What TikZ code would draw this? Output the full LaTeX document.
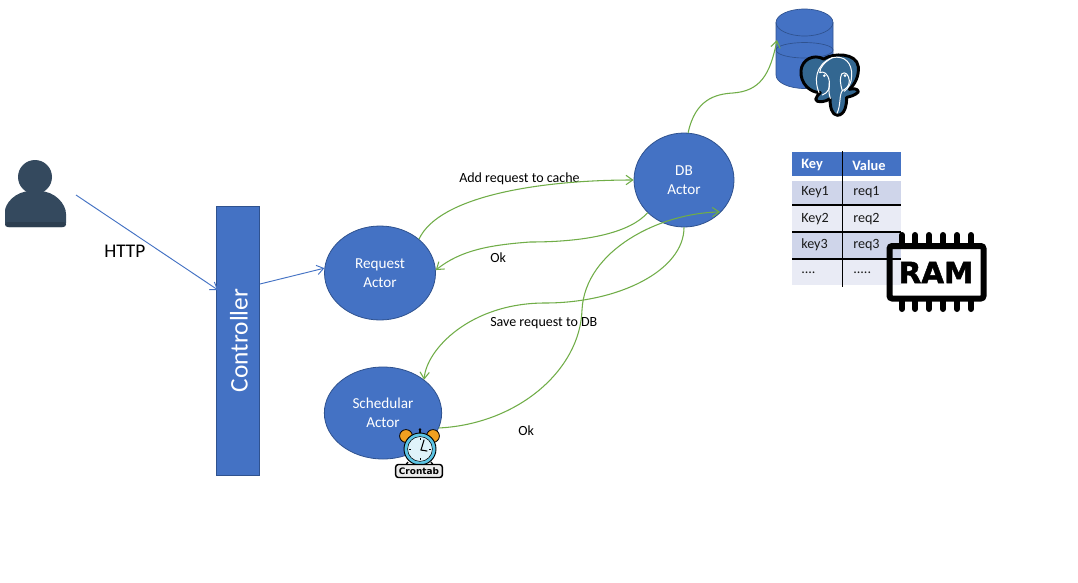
\documentclass[tikz,border=0pt]{standalone}
\usepackage{fontspec}
\setmainfont{Carlito}
\newfontfamily\ramfont[BoldFeatures={FakeBold=1.6}]{DejaVu Sans}
\newfontfamily\cronfont{DejaVu Sans}
\usetikzlibrary{arrows.meta,shapes.geometric}
\definecolor{nodeblue}{HTML}{4472C4}
\definecolor{edgeblue}{HTML}{2F528F}
\definecolor{conngreen}{HTML}{70AD47}
\definecolor{rowodd}{HTML}{CFD5EA}
\definecolor{roweven}{HTML}{E9EBF5}
\definecolor{person}{HTML}{34495E}
\definecolor{persondark}{HTML}{2C3E50}
\definecolor{pgblue}{HTML}{336791}
\definecolor{txt}{HTML}{1A1A1A}
\definecolor{clockblue}{HTML}{5CC4E4}
\definecolor{clockface}{HTML}{DFF3FA}
\definecolor{bell}{HTML}{F0A020}
\tikzset{
  actor/.style={ellipse,draw=edgeblue,line width=.6pt,fill=nodeblue,text=white,inner sep=0pt,align=center,font=\fontsize{11.4}{14.25}\selectfont},
  lab/.style={anchor=west,inner sep=0pt,text=black,font=\fontsize{10.5}{12}\selectfont},
  cell/.style={anchor=west,inner sep=0pt,text=txt,font=\fontsize{10.6}{12}\selectfont},
  headcell/.style={anchor=west,inner sep=0pt,text=white,font=\fontsize{10.8}{12}\selectfont\bfseries},
  bluearrow/.style={draw=nodeblue,line width=.7pt,-{Straight Barb[length=5pt,width=7pt]}},
  greenarrow/.style={draw=conngreen,line width=.8pt,-{Straight Barb[length=5pt,width=7pt]}},
  tline/.style={draw=black,line width=.8pt},
  pin/.style={draw=black,line width=4.5pt,line cap=round},
  elephantline/.style={draw=white,line width=.75pt,line cap=round,line join=round}
}
\begin{document}
\begin{tikzpicture}[x=0.75pt,y=-0.75pt]
\useasboundingbox (0,0) rectangle (1078,582);
\fill[white] (0,0) rectangle (1078,582);

% person
\fill[person] (35,177) circle[radius=12.75pt];
\fill[person,rounded corners=3pt] (5,215) .. controls (5,204) and (15,191) .. (35,191) .. controls (55,191) and (66,204) .. (66,218) -- (66,227) -- (5,227) -- cycle;
\fill[persondark,rounded corners=2pt] (5,222) -- (66,222) -- (66,227) -- (5,227) -- cycle;

% controller
\node[draw=edgeblue,line width=.6pt,fill=nodeblue,minimum width=32.25pt,minimum height=201.75pt,inner sep=0pt] (ctrl) at (238,340.5) {};
\node[rotate=90,text=white,font=\fontsize{19}{21}\selectfont,inner sep=0pt] (ctrltext) at (239,340.5) {Controller};

% actors
\node[actor,minimum width=83.25pt,minimum height=70.5pt] (req) at (380,273) {Request\\Actor};
\node[actor,minimum width=75pt,minimum height=70.5pt] (db) at (684,180) {DB\\Actor};
\node[actor,minimum width=88pt,minimum height=69pt] (sched) at (383,413) {Schedular\\Actor};

% cylinder
\fill[nodeblue] (776,22.5) -- (776,75) arc[start angle=180,end angle=360,x radius=21.375pt,y radius=10.125pt] -- (833,22.5) arc[start angle=0,end angle=180,x radius=21.375pt,y radius=10.125pt] -- cycle;
\draw[edgeblue,line width=.5pt] (776,50) arc[start angle=180,end angle=0,x radius=21.375pt,y radius=5.6pt];
\draw[edgeblue,line width=.5pt] (776,50) arc[start angle=180,end angle=360,x radius=21.375pt,y radius=6pt];
\draw[edgeblue,line width=.5pt] (776,22.5) arc[start angle=180,end angle=360,x radius=21.375pt,y radius=10.125pt];
\draw[edgeblue,line width=.5pt] (776,22.5) -- (776,75) arc[start angle=180,end angle=360,x radius=21.375pt,y radius=10.125pt] -- (833,22.5) arc[start angle=0,end angle=180,x radius=21.375pt,y radius=10.125pt];

% table
\fill[nodeblue] (792,152) rectangle (901,176);
\fill[rowodd] (792,181) rectangle (901,205);
\fill[roweven] (792,205) rectangle (901,232);
\fill[rowodd] (792,232) rectangle (901,258);
\fill[roweven] (792,258) rectangle (901,285);
\draw[tline] (792,205) -- (901,205);
\draw[tline] (792,232) -- (901,232);
\draw[tline] (792,259) -- (901,259);
\draw[tline] (842.5,151) -- (842.5,287);
\node[headcell] (tk) at (801,165) {Key};
\node[headcell] (tv) at (852,165) {Value};
\node[cell] (k1) at (801,192) {Key1};
\node[cell] (v1) at (853,192) {req1};
\node[cell] (k2) at (801,219) {Key2};
\node[cell] (v2) at (853,219) {req2};
\node[cell] (k3) at (801,245) {key3};
\node[cell] (v3) at (853,245) {req3};
\node[cell] (k4) at (801,273) {....};
\node[cell] (v4) at (853,273) {.....};

% labels
\node[lab] (l1) at (459,179) {Add request to cache};
\node[lab] (l2) at (490,258) {Ok};
\node[lab] (l3) at (490,323) {Save request to DB};
\node[lab] (l4) at (518,431) {Ok};
\node[lab,font=\fontsize{14.5}{16}\selectfont] (lhttp) at (104,251) {HTTP};

% connector free ends
\coordinate (httpstart) at (76,195);
\coordinate (ctrlin) at (218,290);
\coordinate (ctrlout) at (260,284);
\coordinate (cylin) at (777,40);
\coordinate (dbin) at (720,212);
\coordinate (m1) at (530,242);
\coordinate (m2) at (545,303);
\coordinate (m3) at (582,310);
\coordinate (m4) at (733,93);

\draw[bluearrow] (httpstart) -- (ctrlin);
\draw[bluearrow] (ctrlout) -- (req.175);
\draw[greenarrow] (req.41) .. controls +(20,-43) and +(-94,0) .. (db.west);
\draw[greenarrow] (db.222) .. controls +(-17,19) and +(60,0) .. (m1) .. controls +(-40,3) and +(25,-20) .. (req.3);
\draw[greenarrow] (db.south) .. controls +(0,43) and +(74,0) .. (m2) .. controls +(-75,0) and +(2,-30) .. (sched.39);
\draw[greenarrow] (sched.-15) .. controls +(79,-4) and +(-2,60) .. (m3) .. controls +(3,-60) and +(-60,1) .. (dbin);
\draw[greenarrow] (db.85) .. controls +(7,-33) and +(-18,1) .. (m4) .. controls +(27,-2) and +(-7,35) .. (cylin);

% elephant (coordinates of a 3x crop)
\begin{scope}[shift={(795,50)},x=0.25pt,y=-0.25pt]
\path[draw=black,line width=2.2pt,fill=pgblue,line join=round]
 (18,62) .. controls (20,30) and (55,10) .. (86,27)
 .. controls (115,8) and (185,8) .. (190,50)
 .. controls (192,80) and (180,102) .. (163,118)
 .. controls (172,116) and (190,114) .. (190,126)
 .. controls (180,136) and (165,140) .. (155,142)
 .. controls (155,165) and (150,195) .. (127,196)
 .. controls (110,195) and (105,170) .. (105,146)
 .. controls (92,156) and (64,160) .. (62,148)
 .. controls (62,138) and (72,134) .. (76,128)
 .. controls (45,128) and (15,100) .. (18,62) -- cycle;
\draw[elephantline]
 (72,128) .. controls (58,95) and (58,45) .. (112,23);
\draw[elephantline]
 (112,23) .. controls (150,15) and (172,40) .. (170,78)
 .. controls (170,98) and (160,115) .. (148,124);
\draw[elephantline]
 (112,23) .. controls (90,35) and (75,50) .. (74,68)
 .. controls (85,62) and (100,70) .. (103,95)
 .. controls (105,115) and (100,128) .. (82,135);
\draw[elephantline]
 (103,95) .. controls (102,115) and (100,130) .. (106,145);
\draw[elephantline]
 (140,72) .. controls (150,62) and (162,75) .. (163,92)
 .. controls (164,110) and (150,118) .. (142,122)
 .. controls (132,135) and (138,165) .. (126,190);
\draw[elephantline]
 (140,72) .. controls (134,85) and (135,100) .. (142,122);
\fill[white] (88,77) circle[radius=1.1pt];
\fill[white] (150,77) circle[radius=1.1pt];
\end{scope}

% RAM chip
\draw[black,line width=4.5pt,rounded corners=2pt] (889.5,246) rectangle (983.5,298.5);
\foreach \px in {902,915,929,943,957,971} {
  \draw[pin] (\px,235) -- (\px,244);
  \draw[pin] (\px,301) -- (\px,309);
}
\node[font=\ramfont\bfseries\fontsize{22}{22}\selectfont,text=black,inner sep=0pt] (ram) at (936,272.5) {RAM};

% clock
\draw[black,line width=1pt] (408,462) -- (405,466);
\draw[black,line width=1pt] (431,462) -- (434,466);
\fill[bell,draw=black,line width=.6pt] (406,436) circle[radius=4.8pt];
\fill[bell,draw=black,line width=.6pt] (433,436) circle[radius=4.8pt];
\draw[black,line width=1pt] (420,433) -- (420,430);
\fill[black] (420,429.5) circle[radius=1.1pt];
\fill[clockblue,draw=black,line width=.7pt] (420,449) circle[radius=12pt];
\fill[clockface,draw=black,line width=.4pt] (420,449) circle[radius=9.3pt];
\draw[black,line width=.8pt,line cap=round] (421,450) -- (424,440);
\draw[black,line width=.8pt,line cap=round] (421,450) -- (427,451);
\foreach \tickx/\ticky/\tickxb/\tickyb in {420/438/420/440,420/460/420/458,409/449/411/449,431/449/429/449}
  \draw[black,line width=.4pt] (\tickx,\ticky) -- (\tickxb,\tickyb);
\node[draw=black,line width=1.1pt,rounded corners=2pt,fill=black!8,inner sep=0pt,minimum width=35pt,minimum height=9.75pt,text=black,font=\cronfont\bfseries\fontsize{6.7}{7}\selectfont] (cron) at (419,471) {Crontab};
\end{tikzpicture}
\end{document}
